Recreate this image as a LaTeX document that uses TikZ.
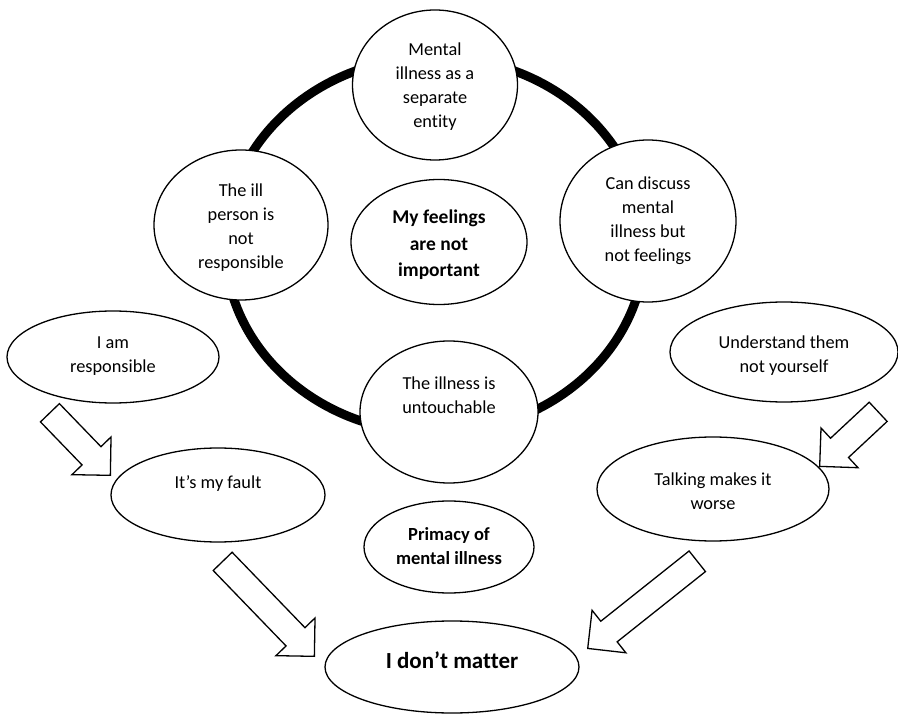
\documentclass[tikz,border=0pt]{standalone}
\usepackage{fontspec}
\setmainfont{Carlito}[Ligatures=NoCommon]
\usetikzlibrary{shapes.geometric,shapes.arrows}
\begin{document}
\begin{tikzpicture}[x=1pt,y=-1pt,
  bubble/.style={draw, ellipse, line width=1.3pt, fill=white, inner sep=0pt},
  txt/.style={align=center, font=\fontsize{18.3}{24}\selectfont, inner sep=0pt},
  btxt/.style={align=center, font=\fontsize{19.5}{26.5}\selectfont\bfseries, inner sep=0pt},
  blockarr/.style={draw, single arrow, single arrow head extend=14pt, single arrow tip angle=90, text height=12.5pt, text depth=12.5pt, text width=0pt, inner sep=0pt, line width=1.3pt, fill=white, anchor=tip}]
\useasboundingbox (0,0) rectangle (898,714);
\fill[white] (0,0) rectangle (898,714);
% thick ring
\draw[line width=9pt] (435,245) ellipse [x radius=210pt, y radius=188pt];
% ring bubbles
\node[bubble, minimum width=165pt, minimum height=150pt] (top) at (435,85) {};
\node[txt] (topT) at (435,87) {Mental\\illness as a\\separate\\entity};
\node[bubble, minimum width=174pt, minimum height=150pt] (left) at (241,225) {};
\node[txt] (leftT) at (241,228) {The ill\\person is\\not\\responsible};
\node[bubble, minimum width=176pt, minimum height=162pt] (right) at (648,221) {};
\node[txt] (rightT) at (648,221) {Can discuss\\mental\\illness but\\not feelings};
\node[bubble, minimum width=178pt, minimum height=142pt] (bottom) at (449,412) {};
\node[txt] (bottomT) at (449,395) {The illness is\\untouchable};
\node[bubble, minimum width=176pt, minimum height=125pt] (centre) at (439,242) {};
\node[btxt] (centreT) at (439,245) {My feelings\\are not\\important};
% side bubbles
\node[bubble, minimum width=212pt, minimum height=92pt] (resp) at (113,357) {};
\node[txt] (respT) at (113,356) {I am\\responsible};
\node[bubble, minimum width=214pt, minimum height=94pt] (fault) at (218,495) {};
\node[txt] (faultT) at (218,484) {It’s my fault};
\node[bubble, minimum width=228pt, minimum height=100pt] (under) at (784,352) {};
\node[txt] (underT) at (784,356) {Understand them\\not yourself};
\node[bubble, minimum width=232pt, minimum height=104pt] (talk) at (713,489) {};
\node[txt] (talkT) at (713,491) {Talking makes it\\worse};
\node[bubble, minimum width=170pt, minimum height=92pt] (prim) at (449,547) {};
\node[btxt, font=\fontsize{18.5}{24}\selectfont\bfseries] (primT) at (449,546) {Primacy of\\mental illness};
\node[bubble, minimum width=254pt, minimum height=92pt] (matter) at (452,667) {};
\node[btxt, font=\fontsize{23}{28}\selectfont\bfseries] (matterT) at (452,660) {I don’t matter};
% block arrows
\node[blockarr, minimum height=87pt, rotate=-46] (a1) at (111,476) {};
\node[blockarr, minimum height=132pt, rotate=-46] (a2) at (315,657) {};
\node[blockarr, minimum height=80pt, rotate=-137] (a3) at (819,467) {};
\node[blockarr, minimum height=140pt, rotate=-141.5] (a4) at (587,649) {};
\end{tikzpicture}
\end{document}
